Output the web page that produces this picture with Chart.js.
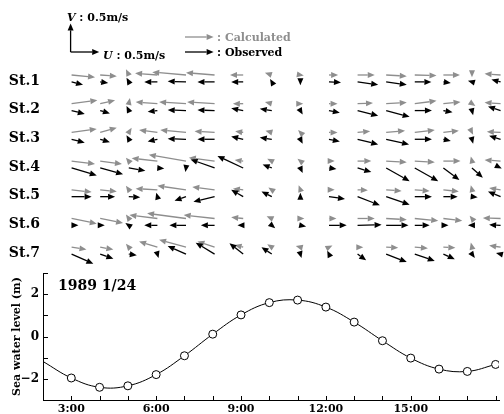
<!DOCTYPE html>
<html>
<head>
<meta charset="utf-8">
<script src="https://cdn.jsdelivr.net/npm/chart.js@4.4.1/dist/chart.umd.min.js"></script>
<style>
  html, body { margin: 0; padding: 0; background: #fff; }
  #wrap { position: relative; width: 504px; height: 414px; overflow: hidden; }
  #vec { position: absolute; left: 0; top: 0; }
  #wl { position: absolute; left: 0; top: 262px; }
</style>
</head>
<body>
<div id="wrap">
  <canvas id="vec" width="504" height="270"></canvas>
  <canvas id="wl" width="504" height="152"></canvas>
</div>
<script>
// hours of the current vectors (tail of each arrow)
const hours = [3, 4, 5, 6, 7, 8, 9, 10, 11, 12, 13, 14, 15, 16, 17, 18];
const stations = ["St.1", "St.2", "St.3", "St.4", "St.5", "St.6", "St.7"];

// calculated currents, m/s (east, north)
const calcU = [
  [0.41, 0.29, -0.05, -0.39, -0.59, -0.50, -0.23, -0.12, 0.06, 0.16, 0.30, 0.36, 0.38, 0.29, 0.00, -0.28],
  [0.45, 0.26, 0.02, -0.38, -0.47, -0.48, -0.18, -0.12, 0.05, 0.15, 0.27, 0.36, 0.38, 0.30, 0.06, -0.28],
  [0.44, 0.29, 0.05, -0.32, -0.45, -0.35, -0.14, -0.11, -0.04, 0.15, 0.22, 0.33, 0.35, 0.27, 0.02, -0.24],
  [0.41, 0.38, -0.05, -0.45, -0.65, -0.45, -0.15, -0.08, -0.05, 0.10, 0.24, 0.36, 0.35, 0.30, -0.02, -0.28],
  [0.35, 0.29, -0.05, -0.38, -0.50, -0.39, -0.18, -0.06, -0.03, 0.10, 0.18, 0.27, 0.26, 0.27, -0.02, -0.20],
  [0.44, 0.40, -0.05, -0.49, -0.68, -0.54, -0.21, -0.09, 0.07, 0.13, 0.30, 0.36, 0.41, 0.33, -0.04, -0.31],
  [0.26, 0.23, -0.05, -0.32, -0.47, -0.30, -0.15, -0.08, -0.08, 0.06, 0.10, 0.21, 0.23, 0.21, -0.02, -0.20]
];
const calcV = [
  [-0.04, -0.02, 0.10, 0.03, 0.05, 0.04, 0.00, 0.04, -0.01, 0.00, 0.00, -0.02, -0.01, 0.00, -0.04, 0.02],
  [0.06, 0.06, 0.10, 0.03, 0.03, 0.03, 0.00, 0.03, 0.00, 0.00, 0.01, 0.02, 0.05, 0.03, -0.04, 0.02],
  [0.06, 0.08, 0.08, 0.04, 0.04, 0.02, 0.02, 0.03, 0.04, 0.00, 0.02, 0.03, 0.04, 0.03, -0.04, 0.01],
  [-0.05, -0.05, 0.06, 0.05, 0.11, 0.06, 0.02, 0.04, 0.04, 0.00, 0.00, -0.02, -0.02, 0.00, 0.08, 0.02],
  [-0.04, -0.03, 0.07, 0.02, 0.07, 0.05, 0.02, 0.04, 0.08, 0.00, -0.01, -0.02, -0.02, -0.03, 0.08, 0.03],
  [-0.09, -0.08, 0.07, 0.06, 0.09, 0.06, 0.02, 0.04, 0.00, 0.00, 0.00, -0.02, -0.04, -0.04, 0.05, 0.01],
  [-0.04, -0.04, 0.06, 0.10, 0.13, 0.10, 0.04, 0.05, 0.02, 0.03, 0.00, -0.01, -0.02, -0.01, 0.08, 0.03]
];

// observed currents, m/s
const obsU = [
  [0.20, 0.14, -0.04, -0.23, -0.32, -0.30, -0.21, -0.03, 0.00, 0.21, 0.36, 0.36, 0.29, 0.13, -0.07, -0.16],
  [0.23, 0.17, -0.04, -0.17, -0.32, -0.30, -0.21, -0.21, 0.04, 0.19, 0.36, 0.41, 0.30, 0.16, 0.02, -0.22],
  [0.23, 0.17, -0.04, -0.17, -0.32, -0.30, -0.21, -0.21, 0.04, 0.19, 0.36, 0.40, 0.30, 0.13, 0.02, -0.20],
  [0.44, 0.40, 0.29, 0.12, -0.01, -0.42, -0.45, -0.16, 0.04, 0.13, 0.24, 0.41, 0.41, 0.28, 0.19, 0.02],
  [0.35, 0.26, 0.20, -0.02, -0.20, -0.37, -0.21, -0.18, 0.00, 0.28, 0.39, 0.41, 0.30, 0.25, 0.10, -0.22],
  [0.12, 0.08, -0.06, -0.23, -0.29, -0.24, -0.10, 0.06, 0.10, 0.31, 0.42, 0.39, 0.26, 0.09, -0.07, -0.20],
  [0.38, 0.23, 0.14, 0.02, -0.32, -0.33, -0.24, -0.18, 0.02, -0.03, 0.15, 0.36, 0.35, 0.20, 0.05, -0.08]
];
const obsV = [
  [-0.05, -0.02, 0.07, 0.00, 0.01, 0.00, 0.00, 0.05, -0.06, -0.01, -0.05, -0.05, 0.00, -0.02, 0.02, 0.04],
  [-0.06, -0.05, 0.08, -0.02, 0.01, 0.01, 0.04, 0.03, -0.07, -0.04, -0.09, -0.11, 0.00, -0.03, -0.08, 0.07],
  [-0.06, -0.05, 0.07, -0.04, 0.01, 0.00, 0.05, 0.03, -0.08, -0.04, -0.09, -0.09, 0.00, -0.03, -0.08, 0.06],
  [-0.13, -0.11, -0.05, -0.01, -0.07, 0.15, 0.21, 0.06, -0.09, -0.02, -0.07, -0.23, -0.23, -0.21, -0.17, -0.01],
  [0.00, 0.00, -0.01, 0.07, -0.07, -0.09, 0.12, 0.09, 0.07, -0.04, -0.15, -0.14, 0.00, 0.00, -0.01, 0.09],
  [0.00, 0.00, 0.04, 0.00, 0.00, 0.00, 0.00, -0.05, -0.02, 0.00, 0.01, 0.00, 0.00, 0.00, 0.00, 0.01],
  [-0.17, -0.08, -0.02, -0.07, 0.14, 0.20, 0.19, 0.12, -0.07, 0.06, -0.11, -0.14, -0.12, -0.09, -0.07, 0.02]
];

// sea water level (m); first value is where the curve meets the axis
const levelHours = [2, 3, 4, 5, 6, 7, 8, 9, 10, 11, 12, 13, 14, 15, 16, 17, 18];
const seaLevel = [-1.18, -1.96, -2.40, -2.33, -1.80, -0.91, 0.11, 1.02, 1.60, 1.72, 1.39, 0.68, -0.20, -1.02, -1.54, -1.65, -1.32];
const xTickHours = [3, 6, 9, 12, 15];
const levelTickLabels = [-2, 0, 2];
const dateLabel = "1989 1/24";
const scaleSpeed = 0.5; // m/s shown by the scale arrows

const GREY = "#8e8e8e";
const SERIF = '"DejaVu Serif", serif';

function drawArrow(ctx, x0, y0, x1, y1, color) {
  const dx = x1 - x0, dy = y1 - y0;
  const len = Math.hypot(dx, dy);
  if (len < 0.01) return;
  const ux = dx / len, uy = dy / len;
  const hl = 7, hw = 3;
  const bx = x1 - ux * hl, by = y1 - uy * hl;
  ctx.strokeStyle = color;
  ctx.fillStyle = color;
  ctx.lineWidth = 1.3;
  if (len > hl) {
    ctx.beginPath();
    ctx.moveTo(x0, y0);
    ctx.lineTo(bx, by);
    ctx.stroke();
  }
  ctx.beginPath();
  ctx.moveTo(x1, y1);
  ctx.lineTo(bx - uy * hw, by + ux * hw);
  ctx.lineTo(bx + uy * hw, by - ux * hw);
  ctx.closePath();
  ctx.fill();
}

// row of each station on the vector panel (St.1 on top)
const rowOf = (i) => stations.length - i;

const datasets = [];
stations.forEach((name, i) => {
  datasets.push({
    label: name + " calculated",
    data: hours.map((h) => ({ x: h, y: rowOf(i) + 0.12 })),
    u: calcU[i], v: calcV[i],
    borderColor: GREY, pointRadius: 0
  });
});
stations.forEach((name, i) => {
  datasets.push({
    label: name + " observed",
    data: hours.map((h) => ({ x: h, y: rowOf(i) - 0.12 })),
    u: obsU[i], v: obsV[i],
    borderColor: "#000", pointRadius: 0
  });
});

const arrowPlugin = {
  id: "arrows",
  afterDatasetsDraw(chart) {
    const { ctx, scales: { x } } = chart;
    const k = (x.getPixelForValue(1) - x.getPixelForValue(0)) / 0.5; // px per m/s
    ctx.save();
    chart.data.datasets.forEach((ds, di) => {
      chart.getDatasetMeta(di).data.forEach((pt, i) => {
        drawArrow(ctx, pt.x, pt.y, pt.x + ds.u[i] * k, pt.y - ds.v[i] * k, ds.borderColor);
      });
    });

    // scale arrows and legend
    const L = scaleSpeed * k;
    const ox = x.getPixelForValue(3) - 1, oy = 52;
    drawArrow(ctx, ox, oy, ox, oy - L, "#000");
    drawArrow(ctx, ox, oy, ox + L, oy, "#000");

    ctx.textBaseline = "alphabetic";
    ctx.textAlign = "left";
    const label = (lx, ly, comp) => {
      ctx.fillStyle = "#000";
      ctx.font = "italic bold 11px " + SERIF;
      ctx.fillText(comp, lx, ly);
      const w = ctx.measureText(comp).width;
      ctx.font = "bold 11px " + SERIF;
      ctx.fillText(" : " + scaleSpeed + "m/s", lx + w, ly);
    };
    label(67, 21, "V");
    label(103, 59, "U");

    drawArrow(ctx, 185, 37, 185 + L, 37, GREY);
    drawArrow(ctx, 185, 52, 185 + L, 52, "#000");
    ctx.font = "bold 11px " + SERIF;
    ctx.fillStyle = GREY;
    ctx.fillText(": Calculated", 217, 41);
    ctx.fillStyle = "#000";
    ctx.fillText(": Observed", 217, 56);
    ctx.restore();
  }
};

new Chart(document.getElementById("vec"), {
  type: "scatter",
  data: { datasets },
  options: {
    responsive: false,
    animation: false,
    layout: { padding: 0 },
    plugins: { legend: { display: false }, tooltip: { enabled: false } },
    scales: {
      x: { type: "linear", min: 2, max: 18.12, display: false },
      y: {
        type: "linear", min: 0.325, max: 9.733,
        grid: { display: false, drawTicks: false },
        border: { display: false },
        afterBuildTicks: (s) => { s.ticks = stations.map((n, i) => ({ value: rowOf(i) - 0.09 })); },
        afterFit: (s) => { s.width = 43; s.paddingTop = 0; s.paddingBottom = 0; },
        ticks: {
          padding: 3,
          color: "#000",
          font: { family: SERIF, size: 14, weight: "bold" },
          callback: (v, i) => stations[i]
        }
      }
    }
  },
  plugins: [arrowPlugin]
});

const axisMarks = {
  id: "axisMarks",
  afterDraw(chart) {
    const { ctx, chartArea, scales: { x, y } } = chart;
    ctx.save();
    ctx.strokeStyle = "#000";
    ctx.lineWidth = 1;
    ctx.beginPath();
    levelHours.forEach((h) => {
      const px = Math.round(x.getPixelForValue(h)) + 0.5;
      ctx.moveTo(px, chartArea.bottom);
      ctx.lineTo(px, chartArea.bottom - 4);
    });
    y.ticks.forEach((t) => {
      const py = Math.round(y.getPixelForValue(t.value)) + 0.5;
      ctx.moveTo(chartArea.left, py);
      ctx.lineTo(chartArea.left + 5, py);
    });
    ctx.stroke();
    ctx.font = "bold 14px " + SERIF;
    ctx.fillStyle = "#000";
    ctx.textBaseline = "middle";
    ctx.textAlign = "left";
    ctx.fillText(dateLabel, chartArea.left + 15, chartArea.top + 13);
    ctx.restore();
  }
};

new Chart(document.getElementById("wl"), {
  type: "line",
  data: {
    datasets: [{
      data: levelHours.map((h, i) => ({ x: h, y: seaLevel[i] })),
      borderColor: "#000",
      borderWidth: 1,
      tension: 0.4,
      pointRadius: levelHours.map((h) => (h < 3 ? 0 : 4)),
      pointBackgroundColor: "#fff",
      pointBorderColor: "#000",
      pointBorderWidth: 1
    }]
  },
  options: {
    responsive: false,
    animation: false,
    layout: { padding: { top: 11, left: 0, right: 0, bottom: 0 } },
    plugins: { legend: { display: false }, tooltip: { enabled: false } },
    scales: {
      x: {
        type: "linear", min: 2, max: 18.12,
        grid: { drawOnChartArea: false, drawTicks: false },
        border: { color: "#000", width: 1 },
        afterFit: (s) => { s.height = 14; s.paddingLeft = 0; s.paddingRight = 0; },
        ticks: {
          stepSize: 1, autoSkip: false, maxRotation: 0, padding: 3,
          color: "#000",
          font: { family: SERIF, size: 11, weight: "bold" },
          callback: (v) => (xTickHours.includes(v) ? v + ":00" : "")
        }
      },
      y: {
        min: -3, max: 3,
        grid: { drawOnChartArea: false, drawTicks: false },
        border: { color: "#000", width: 1 },
        afterFit: (s) => { s.width = 43; s.paddingTop = 0; s.paddingBottom = 0; },
        title: {
          display: true, text: "Sea water level (m)", color: "#000",
          font: { family: SERIF, size: 11, weight: "bold" },
          padding: { top: 11, bottom: 0 }
        },
        ticks: {
          stepSize: 1, padding: 4, color: "#000",
          font: { family: SERIF, size: 12, weight: "bold" },
          callback: (v) => (levelTickLabels.includes(v) ? (v < 0 ? "\u2212" + (-v) : String(v)) : "")
        }
      }
    }
  },
  plugins: [axisMarks]
});
</script>
</body>
</html>
